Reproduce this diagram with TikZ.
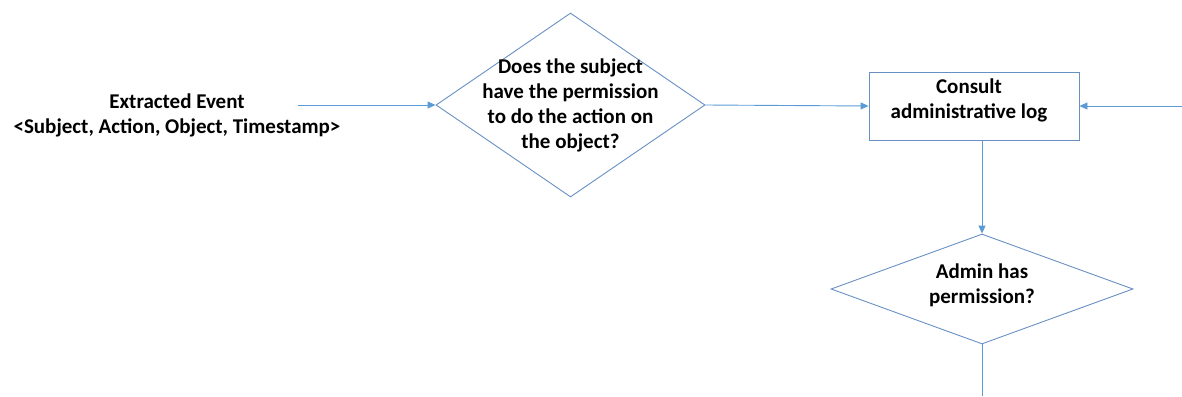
\documentclass[tikz,border=0pt]{standalone}
\usepackage{fontspec}
\setmainfont{Carlito}
\usetikzlibrary{shapes.geometric,arrows.meta}
\definecolor{flowline}{RGB}{91,155,213}
\definecolor{shapeline}{RGB}{104,144,196}
\begin{document}
\begin{tikzpicture}[x=1pt,y=-1pt,
  lbl/.style={font=\bfseries\fontsize{21}{25}\selectfont, align=center, text=black, inner sep=0pt},
  decision/.style={draw=shapeline, shape=diamond, line width=0.9pt, inner sep=0pt},
  procbox/.style={draw=shapeline, rectangle, line width=0.9pt, inner sep=0pt},
  flow/.style={draw=flowline, line width=0.9pt, -{Triangle[length=8pt,width=7pt]}},
  plain/.style={draw=flowline, line width=0.9pt},
]
\useasboundingbox (0,0) rectangle (1182,396);

% input event
\node[lbl] (event) at (177,115) {Extracted Event\\<Subject, Action, Object, Timestamp>};
\coordinate (eventout) at (298,105);

% first decision
\node[decision, minimum width=269pt, minimum height=184pt] (perm) at (570.5,105) {};
\node[lbl] (permtxt) at (perm.center) {Does the subject\\have the permission\\to do the action on\\the object?};

% administrative log step
\node[procbox, minimum width=210pt, minimum height=68pt] (log) at (974,106) {};
\node[lbl] (logtxt) at (969,100) {Consult\\administrative log};
\coordinate (rightin) at (1182,106);

% second decision
\node[decision, minimum width=302pt, minimum height=110pt] (admin) at (982,289) {};
\node[lbl] (admintxt) at (982,285) {Admin has\\permission?};
\coordinate (adminout) at (982,396);

% connectors
\draw[flow] (eventout) -- (perm.west);
\draw[flow] (perm.east) -- (log.west);
\draw[flow] (rightin) -- (log.east);
\draw[flow] (log.south -| admin.north) -- (admin.north);
\draw[plain] (admin.south) -- (adminout);
\end{tikzpicture}
\end{document}
